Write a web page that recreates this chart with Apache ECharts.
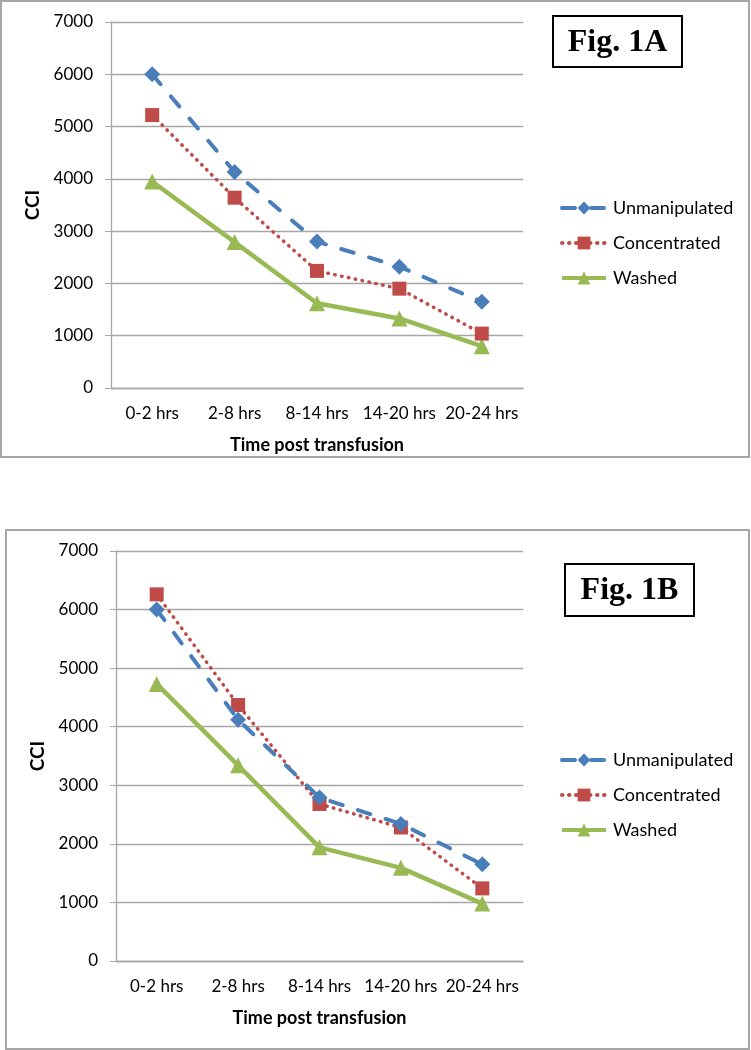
<!DOCTYPE html>
<html>
<head>
<meta charset="utf-8">
<script src="https://cdn.jsdelivr.net/npm/echarts@6/dist/echarts.min.js"></script>
<style>
html,body{margin:0;padding:0;background:#fff;}
#chart{width:751px;height:1050px;}
</style>
</head>
<body>
<div id="chart"></div>
<script>
const categories = ['0-2 hrs', '2-8 hrs', '8-14 hrs', '14-20 hrs', '20-24 hrs'];
const seriesNames = ['Unmanipulated', 'Concentrated', 'Washed'];
const yTicks = [0, 1000, 2000, 3000, 4000, 5000, 6000, 7000];

// Fig. 1A
const unmanipulatedA = [6000, 4130, 2800, 2320, 1650];
const concentratedA = [5220, 3640, 2240, 1900, 1040];
const washedA = [3950, 2790, 1620, 1330, 800];

// Fig. 1B
const unmanipulatedB = [6000, 4120, 2790, 2340, 1650];
const concentratedB = [6260, 4370, 2680, 2280, 1240];
const washedB = [4730, 3340, 1940, 1590, 980];

const FONT = 'Lato';
const COLORS = { blue: '#4A7EBB', red: '#BE4B48', green: '#98B954' };
const GRID = '#A6A6A6';

const chart = echarts.init(document.getElementById('chart'), null, { renderer: 'canvas' });

function makeAxes(idx) {
  const x = {
    type: 'category', gridIndex: idx, data: categories, boundaryGap: true,
    axisLine: { show: true, lineStyle: { color: GRID, width: 1.3 } },
    axisTick: { show: false },
    axisLabel: { color: '#000', fontFamily: FONT, fontSize: 17, margin: 17, interval: 0 },
    name: 'Time post transfusion', nameLocation: 'middle', nameGap: 48,
    nameTextStyle: { color: '#000', fontFamily: FONT, fontWeight: 'bold', fontSize: 18 }
  };
  const y = {
    type: 'value', gridIndex: idx, min: yTicks[0], max: yTicks[yTicks.length - 1], interval: 1000,
    axisLine: { show: true, lineStyle: { color: GRID, width: 1.3 } },
    axisTick: { show: true, length: 6, lineStyle: { color: GRID } },
    axisLabel: { color: '#000', fontFamily: FONT, fontSize: 17, margin: 18, formatter: v => String(v) },
    splitLine: { show: true, lineStyle: { color: GRID, width: 1.3 } },
    name: 'CCI', nameLocation: 'middle', nameGap: 64, nameRotate: 90,
    nameTextStyle: { color: '#000', fontFamily: FONT, fontWeight: 'bold', fontSize: 19 }
  };
  return { x, y };
}

function makeSeries(idx, u, c, w) {
  return [
    { name: seriesNames[0], type: 'line', xAxisIndex: idx, yAxisIndex: idx, data: u,
      symbol: 'diamond', symbolSize: 16, itemStyle: { color: COLORS.blue },
      lineStyle: { color: COLORS.blue, width: 4, type: [13, 16], cap: 'round' }, z: 4 },
    { name: seriesNames[1], type: 'line', xAxisIndex: idx, yAxisIndex: idx, data: c,
      symbol: 'rect', symbolSize: 14, itemStyle: { color: COLORS.red },
      lineStyle: { color: COLORS.red, width: 3.5, type: [0.5, 6.5], cap: 'round' }, z: 3 },
    { name: seriesNames[2], type: 'line', xAxisIndex: idx, yAxisIndex: idx, data: w,
      symbol: 'triangle', symbolSize: 16, itemStyle: { color: COLORS.green },
      lineStyle: { color: COLORS.green, width: 4.5 }, z: 2 }
  ];
}

const a0 = makeAxes(0), a1 = makeAxes(1);

function makeLegend(top) {
  return {
    orient: 'vertical', left: 555, top: top, itemWidth: 44, itemHeight: 16, itemGap: 13,
    data: seriesNames,
    lineStyle: { width: 4 },
    textStyle: { color: '#000', fontFamily: FONT, fontSize: 18, lineHeight: 22, padding: [0, 0, 0, 2] }
  };
}

function figBox(x, y, w, h, label) {
  return [
    { type: 'rect', shape: { x: x, y: y, width: w, height: h }, style: { fill: '#fff', stroke: '#000', lineWidth: 2 }, z: 10 },
    { type: 'text', x: x + w / 2, y: y + h / 2 + 1, style: { text: label, fill: '#000', font: 'bold 32px "Liberation Serif"', textAlign: 'center', textVerticalAlign: 'middle' }, z: 11 }
  ];
}

const option = {
  backgroundColor: '#fff',
  animation: false,
  grid: [
    { left: 111, right: 228, top: 22, bottom: 662 },
    { left: 116, right: 228, top: 551, bottom: 89 }
  ],
  xAxis: [a0.x, a1.x],
  yAxis: [a0.y, a1.y],
  legend: [makeLegend(192), makeLegend(744)],
  series: [].concat(makeSeries(0, unmanipulatedA, concentratedA, washedA), makeSeries(1, unmanipulatedB, concentratedB, washedB)),
  graphic: [
    { type: 'rect', shape: { x: 1, y: 1, width: 748, height: 456 }, style: { fill: 'none', stroke: '#A6A6A6', lineWidth: 2 }, z: 0 },
    { type: 'rect', shape: { x: 6, y: 530, width: 743, height: 519 }, style: { fill: 'none', stroke: '#A6A6A6', lineWidth: 2 }, z: 0 }
  ].concat(figBox(553, 16, 129, 51, 'Fig. 1A'), figBox(565, 564, 129, 52, 'Fig. 1B'))
};

chart.setOption(option);
</script>
</body>
</html>
